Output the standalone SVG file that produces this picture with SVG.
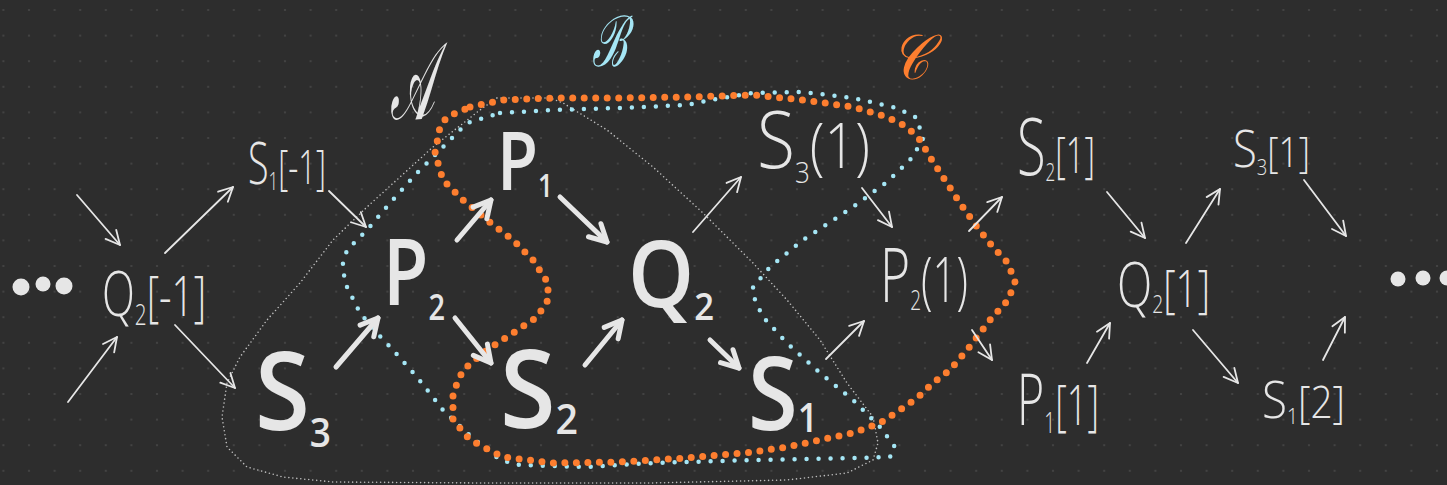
<svg xmlns="http://www.w3.org/2000/svg" width="1447" height="485" viewBox="0 0 1447 485">
<defs>
<pattern id="grid" x="3.4" y="10" width="25.6" height="25.6" patternUnits="userSpaceOnUse">
<circle cx="0" cy="0" r="1.1" fill="#474747"/><circle cx="25.6" cy="0" r="1.1" fill="#474747"/><circle cx="0" cy="25.6" r="1.1" fill="#474747"/><circle cx="25.6" cy="25.6" r="1.1" fill="#474747"/>
</pattern>
<marker id="ah" markerUnits="userSpaceOnUse" viewBox="-20 -20 40 40" markerWidth="40" markerHeight="40" refX="0" refY="0" orient="auto">
<path d="M -14 -7 L 0 0 L -14 7" fill="none" stroke="#e6e6e6" stroke-width="1.8" stroke-linecap="round" stroke-linejoin="round"/>
</marker>
<marker id="ahb" markerUnits="userSpaceOnUse" viewBox="-25 -25 50 50" markerWidth="50" markerHeight="50" refX="0" refY="0" orient="auto">
<path d="M -17 -9 L 0 0 L -17 9" fill="none" stroke="#e6e6e6" stroke-width="5" stroke-linecap="round" stroke-linejoin="round"/>
</marker>
<style>
.thin{fill:none;stroke:#e6e6e6;stroke-width:1.8;stroke-linecap:round;marker-end:url(#ah)}
.bold{fill:none;stroke:#e6e6e6;stroke-width:5;stroke-linecap:round;marker-end:url(#ahb)}
.lt{font-family:"Open Sans","Liberation Sans",sans-serif;font-weight:300;fill:#e6e6e6}
.bt{font-family:"Open Sans","Liberation Sans",sans-serif;font-weight:600;fill:#e6e6e6}
.sc{font-family:"DejaVu Serif","Liberation Serif",serif;font-style:italic}
.dotc{fill:none;stroke:#fd7e2f;stroke-width:7;stroke-dasharray:0 11.5;stroke-linecap:round;stroke-linejoin:round}
.dotb{fill:none;stroke:#a5e6f5;stroke-width:4.5;stroke-dasharray:0 12;stroke-linecap:round;stroke-linejoin:round}
.dota{fill:none;stroke:#bdbdbd;stroke-width:1.6;stroke-dasharray:0 4;stroke-linecap:round;stroke-linejoin:round}
</style>
</defs>
<rect width="1447" height="485" fill="#2d2d2d"/>
<rect width="1447" height="485" fill="url(#grid)"/>

<g id="regions">
<polygon id="region-A" class="dota" points="497,98 550,98 563,103 607,130 653,167 703,213 753,263 787,300 820,340 847,383 873,417 878,443 873,460 847,473 787,480 650,483 480,483 333,482 283,477 247,467 227,447 222,417 227,383 240,357 267,320 300,283 333,240 367,207 433,147 480,110"/>
<polygon id="region-B" class="dotb" points="500,113 553,110 620,108 687,105 710,100 753,93 803,92 853,98 897,108 917,118 923,140 910,160 887,182 853,207 803,240 770,267 753,287 755,300 763,317 787,343 820,373 853,400 880,427 895,447 890,457 853,458 753,460 653,463 587,467 520,465 500,460 467,433 443,410 417,377 393,350 377,333 360,313 347,287 342,267 347,250 367,230 390,203 417,173 443,147 467,123"/>
<polygon id="region-C" class="dotc" points="470,107 503,100 553,98 620,98 687,97 753,95 803,100 853,107 887,117 907,127 920,140 930,157 943,177 960,203 977,227 993,247 1008,263 1015,282 1008,300 990,320 967,350 950,370 933,383 917,398 900,410 880,423 853,433 820,440 787,447 753,452 720,455 687,458 620,462 553,463 503,457 470,440 453,420 453,393 463,370 487,350 513,333 537,317 548,300 548,283 533,260 513,240 487,220 463,200 443,180 435,153 440,127 447,117"/>
</g>

<g id="region-labels">
<text id="label-A" class="sc" transform="translate(390,119) scale(0.55,1.27)" font-size="86" fill="#e6e6e6">𝒜</text>
<text id="label-B" class="sc" transform="translate(592,66) scale(0.64,1.06)" font-size="66" fill="#a5e6f5">ℬ</text>
<text id="label-C" class="sc" transform="translate(891,79) scale(0.88,1.05)" font-size="60" fill="#fd7e2f">𝒞</text>
</g>

<g id="connectors">
<path class="thin" d="M77,195 L120,245"/>
<path class="thin" d="M68,402 L117,337"/>
<path class="thin" d="M165,253 L233,187"/>
<path class="thin" d="M175,325 L235,388"/>
<path class="thin" d="M329,191 L366,227"/>
<path class="thin" d="M693,232 L741,177"/>
<path class="thin" d="M862,188 L892,227"/>
<path class="thin" d="M826,359 L864,321"/>
<path class="thin" d="M969,231 L1002,197"/>
<path class="thin" d="M972,330 L992,360"/>
<path class="thin" d="M1107,192 L1145,238"/>
<path class="thin" d="M1186,243 L1220,189"/>
<path class="thin" d="M1304,180 L1346,236"/>
<path class="thin" d="M1087,363 L1110,323"/>
<path class="thin" d="M1193,330 L1238,383"/>
<path class="thin" d="M1323,360 L1345,317"/>
<path class="bold" d="M336,367 L378,318"/>
<path class="bold" d="M457,240 L491,200"/>
<path class="bold" d="M560,197 L607,242"/>
<path class="bold" d="M455,318 L491,363"/>
<path class="bold" d="M585,365 L622,320"/>
<path class="bold" d="M710,340 L739,368"/>
</g>

<g id="ellipsis-left" fill="#e6e6e6"><circle cx="21" cy="287" r="8.5"/><circle cx="43" cy="284" r="7.5"/><circle cx="64" cy="286" r="8.5"/></g>
<g id="ellipsis-right" fill="#e6e6e6"><circle cx="1398" cy="279" r="7.5"/><circle cx="1423" cy="278" r="7.5"/><circle cx="1447" cy="278" r="7.5"/></g>

<g id="node-Q2m1"><text class="lt" x="102" y="316" font-size="62" textLength="104" lengthAdjust="spacingAndGlyphs">Q<tspan font-size="30" dy="9">2</tspan><tspan dy="-9" font-size="56">[-1]</tspan></text></g>
<g id="node-S1m1"><text class="lt" x="248" y="184" font-size="58" textLength="78" lengthAdjust="spacingAndGlyphs">S<tspan font-size="26" dy="6">1</tspan><tspan dy="-6" font-size="48">[-1]</tspan></text></g>

<g id="node-P1"><text class="bt" x="497" y="190" font-size="82" textLength="56" lengthAdjust="spacingAndGlyphs">P<tspan font-size="32" dy="7">1</tspan></text></g>
<g id="node-P2"><text class="bt" x="383" y="305" font-size="92" textLength="62" lengthAdjust="spacingAndGlyphs">P<tspan font-size="36" dy="15">2</tspan></text></g>
<g id="node-S3"><text class="bt" x="255" y="430" font-size="108" textLength="76" lengthAdjust="spacingAndGlyphs">S<tspan font-size="40" dy="17">3</tspan></text></g>
<g id="node-S2"><text class="bt" x="500" y="428" font-size="108" textLength="78" lengthAdjust="spacingAndGlyphs">S<tspan font-size="42" dy="6">2</tspan></text></g>
<g id="node-Q2"><text class="bt" x="628" y="307" font-size="92" textLength="86" lengthAdjust="spacingAndGlyphs">Q<tspan font-size="38" dy="13">2</tspan></text></g>
<g id="node-S1"><text class="bt" x="748" y="430" font-size="102" textLength="70" lengthAdjust="spacingAndGlyphs">S<tspan font-size="40" dy="2">1</tspan></text></g>

<g id="node-S3p1"><text class="lt" x="757" y="168" font-size="80" textLength="113" lengthAdjust="spacingAndGlyphs">S<tspan font-size="30" dy="15">3</tspan><tspan dy="-15" font-size="62">(1)</tspan></text></g>
<g id="node-P2p1"><text class="lt" x="880" y="302" font-size="76" textLength="88" lengthAdjust="spacingAndGlyphs">P<tspan font-size="28" dy="8">2</tspan><tspan dy="-8" font-size="62">(1)</tspan></text></g>
<g id="node-S2p1"><text class="lt" x="1017" y="175" font-size="80" textLength="78" lengthAdjust="spacingAndGlyphs">S<tspan font-size="26" dy="6">2</tspan><tspan dy="-8" font-size="50">[1]</tspan></text></g>
<g id="node-P1p1"><text class="lt" x="1017" y="425" font-size="72" textLength="82" lengthAdjust="spacingAndGlyphs">P<tspan font-size="30" dy="8">1</tspan><tspan dy="-8" font-size="56">[1]</tspan></text></g>
<g id="node-Q2p1"><text class="lt" x="1117" y="307" font-size="62" textLength="93" lengthAdjust="spacingAndGlyphs">Q<tspan font-size="26" dy="6">2</tspan><tspan dy="-6" font-size="52">[1]</tspan></text></g>
<g id="node-S3p1b"><text class="lt" x="1233" y="167" font-size="52" textLength="77" lengthAdjust="spacingAndGlyphs">S<tspan font-size="22" dy="8">3</tspan><tspan dy="-8" font-size="42">[1]</tspan></text></g>
<g id="node-S1p2"><text class="lt" x="1262" y="418" font-size="52" textLength="83" lengthAdjust="spacingAndGlyphs">S<tspan font-size="22" dy="6">1</tspan><tspan dy="-6" font-size="44">[2]</tspan></text></g>
</svg>
